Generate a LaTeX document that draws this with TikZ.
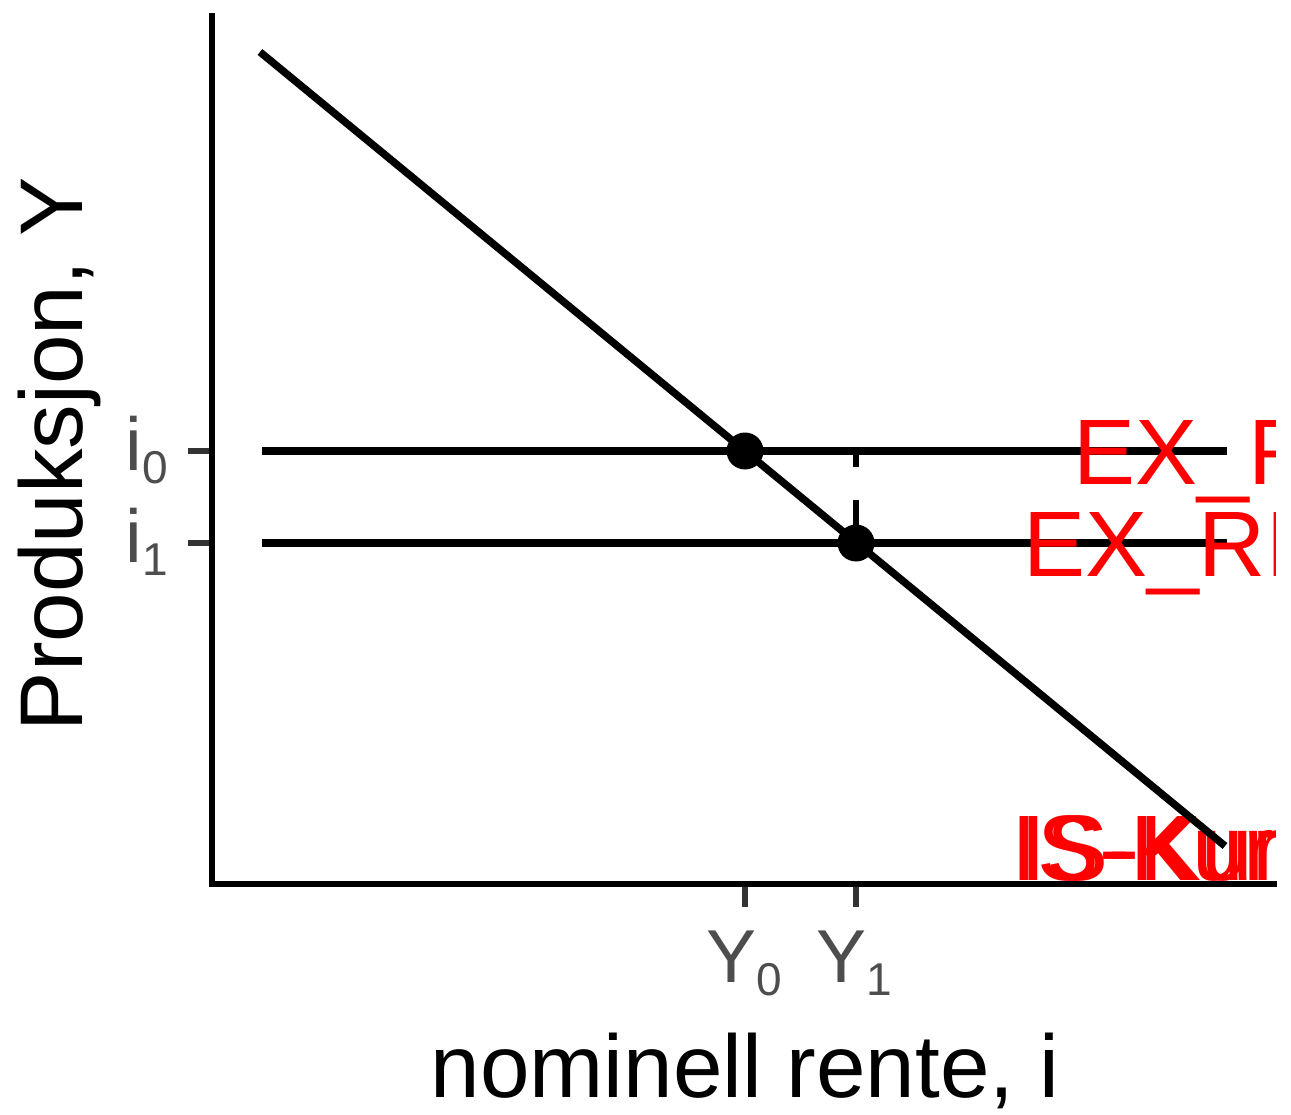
\documentclass[tikz,border=0pt]{standalone}
\usepackage{fontspec}
\setmainfont{Liberation Sans}
\definecolor{tickgray}{HTML}{333333}
\definecolor{labelgray}{HTML}{4D4D4D}
\definecolor{annored}{HTML}{FF0000}
\newcommand{\mysubidx}[1]{\raisebox{-13pt}{\fontsize{46}{46}\selectfont #1}}
\begin{document}
\begin{tikzpicture}[x=1pt,y=-1pt,
  axisline/.style={line width=6.5pt, black},
  curveline/.style={line width=7.5pt, black},
  tickmark/.style={line width=6.5pt, tickgray},
  ticklabel/.style={inner sep=0pt, text=labelgray, font=\fontsize{75}{75}\selectfont},
  axistitle/.style={inner sep=0pt, text=black, font=\fontsize{89}{89}\selectfont, anchor=base},
  redlabel/.style={inner sep=0pt, text=annored, font=\fontsize{93}{93}\selectfont, anchor=base west},
  eqpoint/.style={circle, fill=black, minimum size=37pt, inner sep=0pt}
]
\useasboundingbox (0,0) rectangle (1291,1115);

% coordinates
\coordinate (yaxtop) at (212,13);
\coordinate (yaxbot) at (212,887);
\coordinate (xaxl) at (209,884);
\coordinate (xaxr) at (1277,884);
\coordinate (h0s) at (262,451);
\coordinate (h0e) at (1227,451);
\coordinate (h1s) at (262,543);
\coordinate (h1e) at (1227,543);
\coordinate (iss) at (260,52);
\coordinate (ise) at (1225,846);
\coordinate (dtop) at (856,451);

% axes
\draw[axisline] (yaxtop) -- (yaxbot);
\draw[axisline] (xaxl) -- (xaxr);

% ticks
\coordinate (tx0a) at (745,887); \coordinate (tx0b) at (745,907);
\coordinate (tx1a) at (856,887); \coordinate (tx1b) at (856,907);
\coordinate (ty0a) at (188,451); \coordinate (ty0b) at (209,451);
\coordinate (ty1a) at (188,543); \coordinate (ty1b) at (209,543);
\draw[tickmark] (tx0a) -- (tx0b);
\draw[tickmark] (tx1a) -- (tx1b);
\draw[tickmark] (ty0a) -- (ty0b);
\draw[tickmark] (ty1a) -- (ty1b);

% tick labels
\node[ticklabel, anchor=base east] (li0) at (168,470) {i\mysubidx{0}};
\node[ticklabel, anchor=base east] (li1) at (168,562) {i\mysubidx{1}};
\node[ticklabel, anchor=base] (lY0) at (744,982) {Y\mysubidx{0}};
\node[ticklabel, anchor=base] (lY1) at (854,982) {Y\mysubidx{1}};

% axis titles
\node[axistitle] (xtitle) at (745,1097) {nominell rente, i};
\node[axistitle, rotate=90] (ytitle) at (82,454) {Produksjon, Y};

% horizontal lines
\draw[curveline] (h0s) -- (h0e);
\draw[curveline] (h1s) -- (h1e);

% clipped annotations
\begin{scope}
  \clip (212,0) rectangle (1275,884);
  \node[redlabel] (ex0) at (1073,484) {EX\_R};
  \node[redlabel] (ex1) at (1023,576) {EX\_RE};
  \node[redlabel] (is0) at (1011,880) {IS-Kur};
  \node[redlabel] (is1) at (1020,880) {IS-Kur};
\end{scope}

% IS curve
\draw[curveline] (iss) -- (ise);

% points
\node[eqpoint] (p0) at (745,451) {};
\node[eqpoint] (p1) at (856,543) {};

% dashed guide
\draw[line width=6.5pt, black, dash pattern=on 16pt off 33pt on 60pt] (dtop) -- (p1.center);
\end{tikzpicture}
\end{document}
